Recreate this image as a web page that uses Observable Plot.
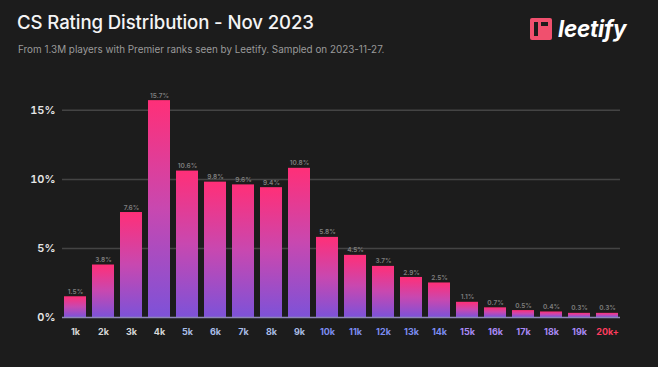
<!DOCTYPE html>
<html>
<head>
<meta charset="utf-8">
<script src="https://cdn.jsdelivr.net/npm/d3@7"></script>
<script src="https://cdn.jsdelivr.net/npm/@observablehq/plot@0.6"></script>
<style>
  html, body { margin: 0; padding: 0; background: #1c1c1c; }
  #wrap { position: relative; width: 658px; height: 367px; background: #1c1c1c; overflow: hidden; font-family: Inter, "Noto Sans", sans-serif; }
  #title { position: absolute; left: 17px; top: 11px; color: #f4f4f4; font-size: 18.6px; font-weight: 500; letter-spacing: -0.1px; white-space: nowrap; }
  #subtitle { position: absolute; left: 18px; top: 43px; color: #9a9a9a; font-size: 9.9px; white-space: nowrap; }
  #logo { position: absolute; left: 530px; top: 15px; display: flex; align-items: center; }
  #logo .icon { width: 22px; height: 22px; background: #f0506e; border-radius: 2px; position: relative; margin-right: 6px; }
  #logo .icon::before { content: ""; position: absolute; left: 4px; top: 4px; width: 4px; height: 14px; background: #1c1c1c; }
  #logo .icon::after { content: ""; position: absolute; left: 11px; top: 4px; width: 7px; height: 4px; background: #1c1c1c; }
  #logo .txt { color: #ffffff; font-size: 22.5px; font-weight: 700; font-style: italic; letter-spacing: -0.2px; }
  #chart { position: absolute; left: 0; top: 60px; }
</style>
</head>
<body>
<div id="wrap">
  <div id="title">CS Rating Distribution - Nov 2023</div>
  <div id="subtitle">From 1.3M players with Premier ranks seen by Leetify. Sampled on 2023-11-27.</div>
  <div id="logo"><div class="icon"></div><div class="txt">leetify</div></div>
  <div id="chart"></div>
</div>
<script>
const ratings = ["1k","2k","3k","4k","5k","6k","7k","8k","9k","10k","11k","12k","13k","14k","15k","16k","17k","18k","19k","20k+"];
const shares = [1.5, 3.8, 7.6, 15.7, 10.6, 9.8, 9.6, 9.4, 10.8, 5.8, 4.5, 3.7, 2.9, 2.5, 1.1, 0.7, 0.5, 0.4, 0.3, 0.3];
const yTicks = [0, 5, 10, 15];
const tierColors = ["#d8d8d8","#d8d8d8","#d8d8d8","#d8d8d8","#a9bde6","#a9bde6","#a9bde6","#a9bde6","#a9bde6","#7c8cf2","#7c8cf2","#7c8cf2","#7c8cf2","#7c8cf2","#a889f5","#a889f5","#a889f5","#a889f5","#a889f5","#ff3d5e"];

const data = ratings.map((r, i) => ({rating: r, share: shares[i]}));
const colorOf = new Map(ratings.map((r, i) => [r, tierColors[i]]));

const plot = Plot.plot({
  width: 658,
  height: 307,
  marginLeft: 62,
  marginRight: 38,
  marginTop: 36,
  marginBottom: 50,
  style: {background: "transparent", fontFamily: "Inter, 'Noto Sans', sans-serif", overflow: "visible"},
  x: {domain: ratings, paddingInner: 0.2, paddingOuter: 0.02, label: null},
  y: {domain: [0, 16], label: null},
  marks: [
    Plot.gridY(yTicks.filter(d => d > 0), {stroke: "#444", strokeOpacity: 1, strokeWidth: 1.5}),
    Plot.barY(data, {x: "rating", y: "share", fill: "url(#barGrad)"}),
    Plot.ruleY([0], {stroke: "#8e86b8", strokeWidth: 1.5}),
    Plot.text(data, {x: "rating", y: "share", text: d => d.share.toFixed(1) + "%", dy: -5, fill: "#7e7e7e", fontSize: 6.5, fontWeight: 600}),
    Plot.axisY(yTicks, {tickFormat: d => d + "%", tickSize: 0, tickPadding: 7, fill: "#e6e6e6", fontSize: 11, fontWeight: 600, label: null}),
    Plot.axisX({tickSize: 0, tickPadding: 11, fill: d => colorOf.get(d), fontSize: 9, fontWeight: 700, label: null})
  ]
});

const svg = d3.select(plot);
const defs = svg.insert("defs", ":first-child");
const g = defs.append("linearGradient").attr("id", "barGrad").attr("x1", 0).attr("y1", 0).attr("x2", 0).attr("y2", 1);
g.append("stop").attr("offset", "0%").attr("stop-color", "#ff2f78");
g.append("stop").attr("offset", "50%").attr("stop-color", "#c848b0");
g.append("stop").attr("offset", "100%").attr("stop-color", "#7d52d8");

document.getElementById("chart").appendChild(plot);
</script>
</body>
</html>
